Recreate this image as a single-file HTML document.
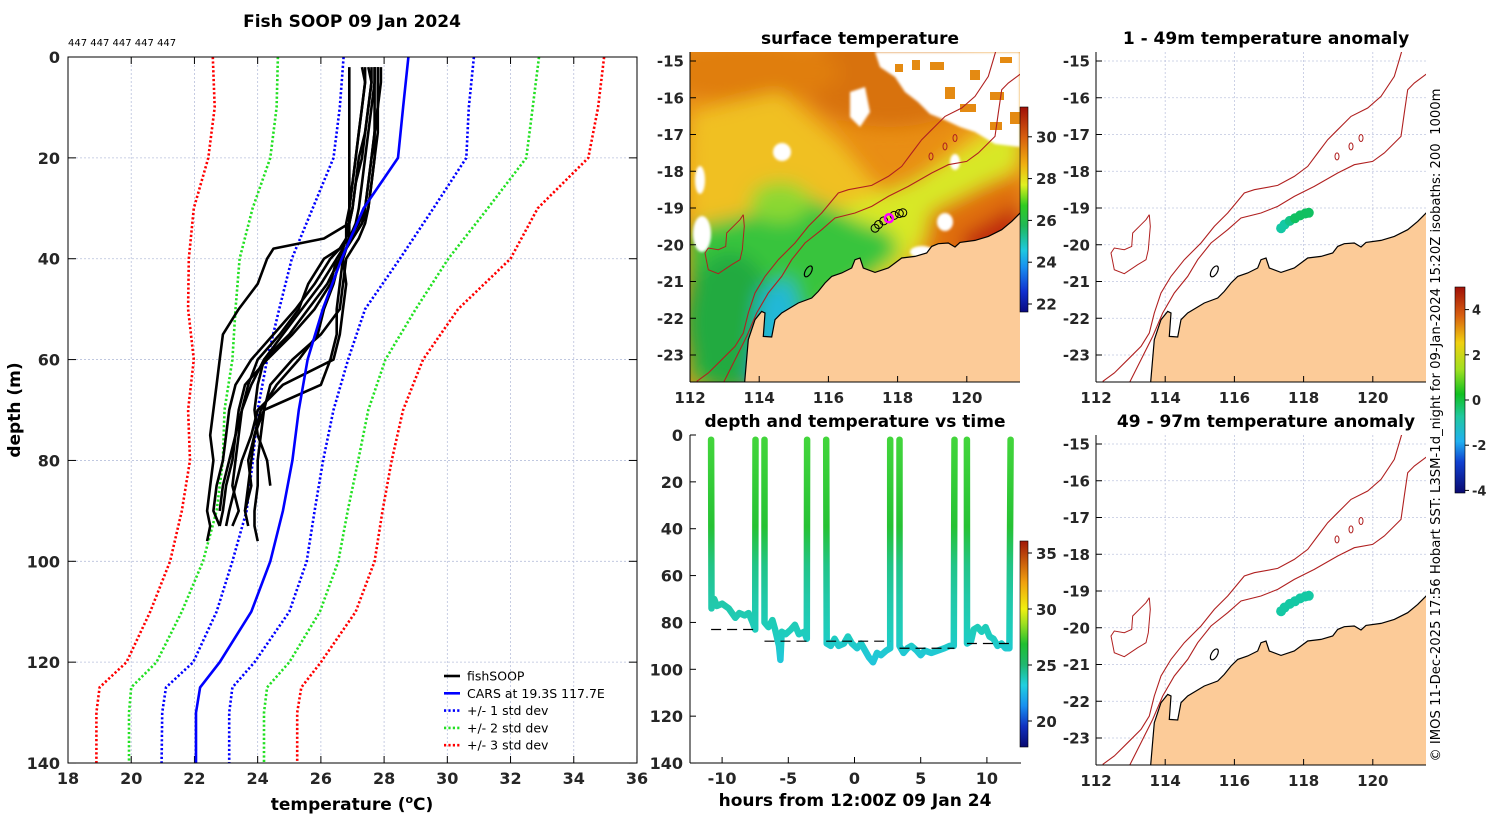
<!DOCTYPE html>
<html><head><meta charset="utf-8"><title>Fish SOOP 09 Jan 2024</title>
<style>
html,body{margin:0;padding:0;background:#fff;}
svg{display:block;font-family:"DejaVu Sans","Liberation Sans",sans-serif;}
.tk{font-weight:bold;font-size:16px;fill:#262626;}
.mt{font-weight:bold;font-size:15px;fill:#262626;}
.ti{font-weight:bold;font-size:17px;fill:#000;}
.lg{font-size:12.5px;fill:#000;}
</style></head>
<body>
<svg id="fig" width="1500" height="820" viewBox="0 0 1500 820" xmlns="http://www.w3.org/2000/svg">
<defs>
<linearGradient id="castGrad" gradientUnits="userSpaceOnUse" x1="0" y1="435" x2="0" y2="763">
<stop offset="0" stop-color="#44d63c"/><stop offset="0.28" stop-color="#26c234"/><stop offset="0.4" stop-color="#22c488"/><stop offset="0.5" stop-color="#22c8a8"/><stop offset="0.6" stop-color="#1ecdbc"/><stop offset="0.68" stop-color="#20c8d8"/><stop offset="1" stop-color="#2090f0"/>
</linearGradient>
<linearGradient id="sstBar" x1="0" y1="1" x2="0" y2="0">
<stop offset="0" stop-color="#0a0a80"/><stop offset="0.1" stop-color="#1030d0"/><stop offset="0.22" stop-color="#1890f0"/><stop offset="0.3" stop-color="#20c8e0"/><stop offset="0.42" stop-color="#20b858"/><stop offset="0.52" stop-color="#30cc20"/><stop offset="0.62" stop-color="#e0f020"/><stop offset="0.72" stop-color="#f0b010"/><stop offset="0.85" stop-color="#d86010"/><stop offset="1" stop-color="#a01008"/>
</linearGradient>
<linearGradient id="timeBar" x1="0" y1="1" x2="0" y2="0">
<stop offset="0" stop-color="#0a0a70"/><stop offset="0.1" stop-color="#1030c0"/><stop offset="0.2" stop-color="#1890f0"/><stop offset="0.3" stop-color="#20d0e0"/><stop offset="0.4" stop-color="#20b870"/><stop offset="0.5" stop-color="#20c030"/><stop offset="0.6" stop-color="#a0e020"/><stop offset="0.67" stop-color="#f0f010"/><stop offset="0.8" stop-color="#f0a010"/><stop offset="1" stop-color="#a01808"/>
</linearGradient>
<linearGradient id="anomBar" x1="0" y1="1" x2="0" y2="0">
<stop offset="0" stop-color="#0a0a70"/><stop offset="0.15" stop-color="#1040d0"/><stop offset="0.25" stop-color="#20b0f0"/><stop offset="0.37" stop-color="#20c8a0"/><stop offset="0.48" stop-color="#10c020"/><stop offset="0.6" stop-color="#a0e020"/><stop offset="0.73" stop-color="#f0d010"/><stop offset="0.86" stop-color="#d86010"/><stop offset="1" stop-color="#a01008"/>
</linearGradient>
<filter id="blur" x="-20%" y="-20%" width="140%" height="140%"><feGaussianBlur stdDeviation="9"/></filter>
<filter id="blurS"><feGaussianBlur stdDeviation="1.2"/></filter>
<clipPath id="mapClip"><rect x="0" y="0" width="330" height="330"/></clipPath>
</defs>
</svg>
<script>
// ---------- LEFT PANEL DATA ----------
const caDepths = [0,10,20,30,40,50,60,70,80,90,100,110,120,125,130,140];
const carsMean = [28.77,28.6,28.44,27.35,26.66,26.06,25.58,25.3,25.1,24.8,24.4,23.8,22.8,22.18,22.05,22.05];
const sd1Low  = [26.72,26.6,26.4,25.74,25.08,24.68,24.3,24.0,23.85,23.65,23.2,22.7,21.96,21.1,20.98,20.96];
const sd1High = [30.84,30.68,30.6,29.56,28.5,27.4,26.86,26.4,26.07,25.8,25.55,25.0,23.9,23.2,23.1,23.1];
const sd2Low  = [24.64,24.6,24.4,23.84,23.43,23.3,23.2,22.95,22.9,22.7,22.27,21.6,20.8,20.0,19.93,19.93];
const sd2High = [32.9,32.7,32.5,31.28,30.03,29.0,28.04,27.5,27.18,26.85,26.55,25.97,25.0,24.3,24.2,24.2];
const sd3Low  = [22.58,22.64,22.44,21.98,21.82,21.8,21.98,21.8,21.86,21.6,21.23,20.6,19.85,19.0,18.9,18.9];
const sd3High = [34.96,34.77,34.46,32.86,32.0,30.34,29.23,28.6,28.24,27.95,27.7,27.1,26.0,25.38,25.25,25.25];
const profDepths = [2,5,10,15,20,25,30,33,36,38,40,45,50,55,60,65,70,75,80,85,90,93,96];
const prof1 = [26.9,26.9,26.9,26.9,26.9,26.9,26.9,26.9,26.1,24.5,24.3,24.0,23.4,22.9,22.8,22.7,22.6,22.5,22.6,22.5,22.4,22.5,22.4];
const prof2 = [27.3,27.4,27.3,27.2,27.1,27.0,26.9,26.9,26.8,26.6,26.3,25.8,25.2,24.5,23.8,23.3,23.1,23.0,22.9,22.7,22.6,22.8,null];
const prof3 = [27.5,27.6,27.5,27.4,27.3,27.1,27.0,26.9,26.9,26.8,26.6,26.2,25.6,25.0,24.2,23.8,23.5,23.3,23.1,22.9,22.8,null,null];
const prof4 = [27.8,27.8,27.8,27.7,27.6,27.5,27.4,27.3,27.0,26.8,26.7,26.8,26.7,26.6,26.4,24.8,24.0,23.8,23.5,23.3,23.1,23.0,null];
const prof5 = [27.7,27.7,27.7,27.7,27.7,27.6,27.5,27.3,27.0,26.8,26.6,26.4,26.1,25.9,25.3,24.6,24.1,23.9,23.7,23.8,23.6,23.7,null];
const prof6 = [27.9,27.9,27.8,27.8,27.7,27.6,27.5,27.4,27.2,27.0,26.8,26.7,26.6,26.0,25.1,24.4,24.2,24.1,24.0,24.0,23.9,23.9,24.0];
const prof7 = [27.6,27.6,27.5,27.4,27.2,27.1,27.0,26.9,26.8,26.7,26.5,26.0,25.4,24.8,24.2,24.0,23.9,24.0,24.3,24.4,null,null,null];
const prof8 = [27.4,27.4,27.3,27.2,27.1,27.0,26.9,26.8,26.8,26.7,26.5,26.3,25.8,25.1,24.3,23.6,23.4,23.3,23.2,23.0,22.9,22.8,null];
const prof9 = [27.7,27.7,27.6,27.5,27.4,27.3,27.2,27.1,26.9,26.8,26.7,26.6,26.5,26.5,26.3,26.0,24.2,23.9,23.8,23.7,23.6,null,null];
const prof10= [27.8,27.8,27.8,27.7,27.6,27.5,27.4,27.2,26.9,26.6,26.1,25.6,25.3,24.7,24.0,23.7,23.5,23.4,23.3,23.2,23.4,23.2,null];
const tempTicks = [18,20,22,24,26,28,30,32,34,36];
const depthTicks = [0,20,40,60,80,100,120,140];
// ---------- TIME PANEL DATA ----------
const castStart = [-10.83,-6.8,-2.14,3.4,8.49];
const castEnd = [-7.48,-3.58,2.7,7.55,11.79];
const bottomHours = [
 [-10.8,-10.6,-10.4,-10,-9.5,-9,-8.7,-8.3,-8,-7.7,-7.5],
 [-6.8,-6.5,-6.2,-6,-5.7,-5.6,-5.5,-5.2,-4.8,-4.5,-4.2,-3.8,-3.6],
 [-2.1,-1.8,-1.5,-1.2,-0.8,-0.5,-0.2,0.2,0.5,0.8,1.1,1.4,1.7,2.0,2.4,2.7],
 [3.4,3.7,4.0,4.3,4.7,5.0,5.3,5.8,6.3,6.8,7.2,7.5],
 [8.5,8.8,9.0,9.3,9.6,9.9,10.2,10.5,10.8,11.1,11.4,11.7]];
const bottomDepths = [
 [74,70,73,72,74,78,76,77,76,80,83],
 [80,82,79,83,90,96,84,85,83,81,85,84,87],
 [89,90,87,90,89,86,89,91,89,92,95,97,93,94,92,91],
 [90,93,91,90,92,94,92,93,92,91,90,90],
 [89,88,83,82,84,82,86,87,90,89,91,91]];
const dashDepth = [83,88,88,91,89];
const hourTicks = [-10,-5,0,5,10];
const timeDepthTicks = [0,20,40,60,80,100,120,140];
// ---------- MAP DATA ----------
const lonTicks = [112,114,116,118,120];
const latTicks = [-15,-16,-17,-18,-19,-20,-21,-22,-23];
const trackLon = [117.35,117.45,117.6,117.75,117.9,118.05,118.15];
const trackLat = [-19.55,-19.45,-19.35,-19.28,-19.2,-19.15,-19.13];
const anomShallow = [-1.0,-0.9,-0.6,-0.4,-0.2,-0.1,-0.2];
const anomDeep = [-1.1,-1.1,-1.0,-1.0,-1.0,-1.1,-1.0];
const sstTicks = [30,28,26,24,22];
const timeBarTicks = [35,30,25,20];
const anomTicks = [4,2,0,-2,-4];

const NS='http://www.w3.org/2000/svg';
const svg=document.getElementById('fig');
function E(tag,attrs,parent){const e=document.createElementNS(NS,tag);for(const k in attrs)e.setAttribute(k,attrs[k]);(parent||svg).appendChild(e);return e;}
function T(txt,x,y,cls,anchor,parent,extra){const e=E('text',Object.assign({x:x,y:y,'class':cls,'text-anchor':anchor||'middle'},extra||{}),parent);e.textContent=txt;return e;}

// ===== LEFT PANEL =====
const xT=t=>68+(t-18)*31.61, yD=d=>57+d*5.043;
const lp=E('g',{});


tempTicks.forEach(t=>{const l=E('line',{x1:xT(t),x2:xT(t),y1:57,y2:763,stroke:'#b8c0dc','stroke-width':0.8,'stroke-dasharray':'2,2'},lp);
 
 
 E('line',{x1:xT(t),x2:xT(t),y1:57,y2:64,stroke:'#000'},lp);E('line',{x1:xT(t),x2:xT(t),y1:756,y2:763,stroke:'#000'},lp);
 const tl=T(String(t),xT(t),784,'tk','middle',lp);
 
 });
depthTicks.forEach(d=>{const l=E('line',{x1:68,x2:637,y1:yD(d),y2:yD(d),stroke:'#b8c0dc','stroke-width':0.8,'stroke-dasharray':'2,2'},lp);
 
 
 E('line',{x1:68,x2:76,y1:yD(d),y2:yD(d),stroke:'#000'},lp);E('line',{x1:629,x2:637,y1:yD(d),y2:yD(d),stroke:'#000'},lp);
 const tl=T(String(d),60,yD(d)+6,'tk','end',lp);
 
 });
function polyPts(xs,ys,fx,fy){let p=[];for(let i=0;i<xs.length;i++){if(xs[i]==null||ys[i]==null)continue;p.push(fx(xs[i]).toFixed(1)+','+fy(ys[i]).toFixed(1));}return p.join(' ');}
[[sd3Low,'#ff0000','sd3-low'],[sd3High,'#ff0000','sd3-high'],[sd2Low,'#22e022','sd2-low'],[sd2High,'#22e022','sd2-high'],[sd1Low,'#0000ff','sd1-low'],[sd1High,'#0000ff','sd1-high']].forEach(a=>{
 const pl=E('polyline',{points:polyPts(a[0],caDepths,xT,yD),fill:'none',stroke:a[1],'stroke-width':2.6,'stroke-dasharray':'2.2,2.2'},lp);
 
 });
[prof1,prof2,prof3,prof4,prof5,prof6,prof7,prof8,prof9,prof10].forEach((p,i)=>{
 const pl=E('polyline',{points:polyPts(p,profDepths,xT,yD),fill:'none',stroke:'#000','stroke-width':2.6,'stroke-linejoin':'round'},lp);
 
 });
const cars=E('polyline',{points:polyPts(carsMean,caDepths,xT,yD),fill:'none',stroke:'#0000ff','stroke-width':2.6},lp);


const lbox=E('rect',{x:68,y:57,width:569,height:706,fill:'none',stroke:'#000','stroke-width':1},lp);


const ttl=T('Fish SOOP 09 Jan 2024',352,27,'ti','middle',lp);


const cnt=T('447 447 447 447 447',68,46,'lg','start',lp,{style:'font-size:10px'});


const xl=E('text',{x:352,y:810,'class':'ti','text-anchor':'middle'},lp);
xl.innerHTML='temperature (<tspan dy="-7" font-size="11">o</tspan><tspan dy="7">C)</tspan>';


const yl=T('depth (m)',20,410,'ti','middle',lp,{transform:'rotate(-90 20 410)'});


const lgItems=[['fishSOOP','#000',''],['CARS at 19.3S 117.7E','#0000ff',''],['+/- 1 std dev','#0000ff','2.2,2.2'],['+/- 2 std dev','#22e022','2.2,2.2'],['+/- 3 std dev','#ff0000','2.2,2.2']];
const lg=E('g',{},lp);


lgItems.forEach((it,i)=>{const y=676+i*17.3;const g=E('g',{},lg);
 
 
 E('line',{x1:444,x2:460,y1:y,y2:y,stroke:it[1],'stroke-width':2.6,'stroke-dasharray':it[2]||'none'},g);
 T(it[0],467,y+4.5,'lg','start',g);});

// ===== TIME PANEL =====
const xH=h=>854.5+h*13.24, yZ=d=>435+d*2.343;
const tp=E('g',{});


castStart.forEach((s,i)=>{
 const hs=[s].concat(bottomHours[i]).concat([castEnd[i]]);
 const ds=[2].concat(bottomDepths[i]).concat([2]);
 const pl=E('polyline',{points:polyPts(hs,ds,xH,yZ),fill:'none',stroke:'url(#castGrad)','stroke-width':6.5,'stroke-linejoin':'round','stroke-linecap':'round'},tp);
 
 
 const dl=E('line',{x1:xH(s),x2:xH(castEnd[i]),y1:yZ(dashDepth[i]),y2:yZ(dashDepth[i]),stroke:'#000','stroke-width':1.2,'stroke-dasharray':'10,6'},tp);
 
 });
E('line',{x1:690,x2:690,y1:435,y2:763,stroke:'#000'},tp);
E('line',{x1:690,x2:1021,y1:763,y2:763,stroke:'#000'},tp);
hourTicks.forEach(h=>{E('line',{x1:xH(h),x2:xH(h),y1:757,y2:763,stroke:'#000'},tp);
 const tl=T(String(h),xH(h),784,'tk','middle',tp);
 
 });
timeDepthTicks.forEach(d=>{E('line',{x1:690,x2:696,y1:yZ(d),y2:yZ(d),stroke:'#000'},tp);
 const tl=T(String(d),683,yZ(d)+6,'tk','end',tp);
 
 });
const tt=T('depth and temperature vs time',855,427,'ti','middle',tp);


const tx=T('hours from 12:00Z 09 Jan 24',855,806,'ti','middle',tp);


const tb=E('rect',{x:1020,y:541,width:8,height:206,fill:'url(#timeBar)',stroke:'#000','stroke-width':0.6},tp);


timeBarTicks.forEach(v=>{const y=721-(v-20)*11.2;E('line',{x1:1028,x2:1032,y1:y,y2:y,stroke:'#000'},tp);
 const tl=T(String(v),1036,y+6,'mt','start',tp);
 
 });

// ===== MAPS =====
const lx=lon=>(lon-112)*34.6, ly=lat=>9+(-15-lat)*36.75;
const coastZ=[[268,1100],[280,960],[300,900],[320,875],[330,880],[325,950],[350,952],[360,900],[380,880],[430,850],[470,835],[490,815],[510,790],[530,770],[560,760],[590,745],[600,720],[615,715],[625,745],[660,758],[700,745],[740,715],[780,710],[815,700],[830,680],[850,672],[880,670],[900,682],[915,668],[960,662],[1000,650],[1040,630],[1070,605],[1100,575],[1100,1100]];
const isoAZ=[[125,1085],[160,1060],[200,1020],[240,980],[265,940],[280,880],[300,820],[330,770],[370,720],[420,670],[460,620],[500,580],[550,520],[580,510],[650,497],[700,470],[740,440],[770,400],[800,360],[830,330],[870,290],[920,265],[960,230],[1000,170],[1015,120],[1022,95]];
const isoBZ=[[205,1090],[240,1020],[275,950],[305,880],[340,820],[380,770],[410,720],[450,670],[500,630],[540,595],[600,580],[650,560],[700,530],[760,500],[830,460],[880,435],[935,425],[970,400],[1020,350],[1030,280],[1040,210],[1060,190],[1100,160]];
const islZ=[[265,585],[255,600],[240,615],[215,640],[212,680],[190,690],[160,685],[150,700],[160,750],[190,762],[230,735],[255,720],[262,690],[268,620],[265,585]];
const cv=p=>(p[0]/3-35).toFixed(1)+','+(p[1]/3-32.3).toFixed(1);
const P=a=>a.map(cv).join(' ');

function drawMap(ox,oy,name,title,sst,anom){
 const g=E('g',{transform:'translate('+ox+','+oy+')'});
 
 
 const inner=E('g',{'clip-path':'url(#mapClip)'},g);
 lonTicks.forEach(l=>E('line',{x1:lx(l),x2:lx(l),y1:0,y2:330,stroke:'#c0c6e0','stroke-width':0.8,'stroke-dasharray':'2,2'},inner));
 latTicks.forEach(l=>E('line',{x1:0,x2:330,y1:ly(l),y2:ly(l),stroke:'#c0c6e0','stroke-width':0.8,'stroke-dasharray':'2,2'},inner));
 if(sst){
  const r=E('g',{},inner);
  
  
  E('rect',{x:-20,y:-20,width:370,height:370,fill:'#e98e14'},r);
  const bl=E('g',{filter:'url(#blur)'},r);
  E('ellipse',{cx:200,cy:25,rx:90,ry:50,fill:'#d8720c'},bl);
  E('ellipse',{cx:60,cy:20,rx:90,ry:30,fill:'#e07e10'},bl);
  E('ellipse',{cx:30,cy:120,rx:45,ry:55,fill:'#ec9a18'},bl);
  E('polygon',{points:'0,60 90,40 150,90 200,150 330,40 330,120 250,200 180,250 120,330 0,330',fill:'#f0c020'},bl);
  E('polygon',{points:'110,170 220,130 330,70 330,110 240,180 200,220 150,230',fill:'#d8e828'},bl);
  E('polygon',{points:'0,175 70,160 120,145 170,170 200,180 210,200 180,225 140,250 120,300 100,330 0,330',fill:'#38c43c'},bl);
  E('ellipse',{cx:40,cy:270,rx:45,ry:70,fill:'#20aa40'},bl);
  E('ellipse',{cx:90,cy:150,rx:30,ry:20,fill:'#8cd830'},bl);
  E('polygon',{points:'70,240 100,225 110,260 100,330 60,330',fill:'#20b8d8'},bl);
  E('ellipse',{cx:80,cy:320,rx:20,ry:25,fill:'#1890e0'},bl);
  E('polygon',{points:'240,160 300,130 330,120 330,190 280,215 230,220',fill:'#e07010'},bl);
  E('polygon',{points:'270,185 330,150 330,200 280,210',fill:'#c02a10'},bl);
  const wb=E('g',{filter:'url(#blurS)',fill:'#fff'},r);
  E('polygon',{points:'185,0 330,0 330,95 305,92 285,80 270,75 255,68 240,62 228,50 215,40 205,25 190,15'},wb);
  E('polygon',{points:'160,40 175,35 180,60 170,75 160,65'},wb);
  E('ellipse',{cx:92,cy:100,rx:9,ry:9},wb);
  E('ellipse',{cx:10,cy:128,rx:5,ry:14},wb);
  E('ellipse',{cx:12,cy:182,rx:9,ry:18},wb);
  E('ellipse',{cx:255,cy:170,rx:8,ry:9},wb);
  E('ellipse',{cx:232,cy:200,rx:12,ry:6},wb);
  E('ellipse',{cx:265,cy:110,rx:5,ry:8},wb);
  const op=E('g',{fill:'#e48a12'},r);
  [[240,10,14,8],[280,18,10,10],[300,40,14,8],[255,35,10,12],[310,5,12,6],[222,8,8,10],[270,52,16,8],[300,70,12,8],[320,60,10,12],[205,12,8,8]].forEach(q=>E('rect',{x:q[0],y:q[1],width:q[2],height:q[3]},op));
 }
 const land=E('polygon',{points:P(coastZ),fill:'#fccb98',stroke:'#000','stroke-width':1.2},inner);
 
 
 const isl=E('polyline',{points:P(islZ),fill:'none',stroke:'#b02020','stroke-width':1},inner);
 
 
 [isoAZ,isoBZ].forEach((a,i)=>{const pl=E('polyline',{points:P(a),fill:'none',stroke:'#b02020','stroke-width':1.1},inner);
  
  });
 [[828,410],[870,380],[900,355]].forEach(p=>{const c=cv(p).split(',');E('ellipse',{cx:c[0],cy:c[1],rx:2,ry:3.5,fill:'none',stroke:'#b02020','stroke-width':1},inner);});
 E('ellipse',{cx:460/3-35,cy:755/3-32.3,rx:3,ry:6,fill:'none',stroke:'#000','stroke-width':1.2,transform:'rotate(30 '+(460/3-35)+' '+(755/3-32.3)+')'},inner);
 if(sst){
  trackLon.forEach((lo,i)=>{const c=E('circle',{cx:lx(lo),cy:ly(trackLat[i]),r:4,fill:'none',stroke:'#000','stroke-width':1},inner);
   
   });
  const m=E('circle',{cx:lx(117.75),cy:ly(-19.28),r:4,fill:'none',stroke:'#ff00ff','stroke-width':2.5},inner);
  
  
 }
 if(anom){
  trackLon.forEach((lo,i)=>{const v=anom[i];const col=v<-0.8?'#14c8a4':(v<-0.4?'#12c488':'#10c060');
   const c=E('circle',{cx:lx(lo),cy:ly(trackLat[i]),r:5,fill:col},inner);
   
   });
 }
 E('line',{x1:0,x2:0,y1:0,y2:330,stroke:'#000'},g);
 E('line',{x1:0,x2:330,y1:330,y2:330,stroke:'#000'},g);
 lonTicks.forEach(l=>{E('line',{x1:lx(l),x2:lx(l),y1:324,y2:330,stroke:'#000'},g);
  const tl=T(String(l),lx(l),351,'mt','middle',g);
  
  });
 latTicks.forEach(l=>{E('line',{x1:0,x2:6,y1:ly(l),y2:ly(l),stroke:'#000'},g);
  const tl=T(String(l),-6,ly(l)+5.5,'mt','end',g);
  
  });
 const ti=T(title,170,-8,'ti','middle',g);
 
 
}
drawMap(690,52,'sst-map','surface temperature',true,null);
drawMap(1096,52,'anomaly-map-shallow','1 - 49m temperature anomaly',false,anomShallow);
drawMap(1096,435,'anomaly-map-deep','49 - 97m temperature anomaly',false,anomDeep);

const sb=E('rect',{x:1020,y:107,width:8,height:205,fill:'url(#sstBar)',stroke:'#000','stroke-width':0.6});


sstTicks.forEach(v=>{const y=304-(v-22)*20.9;E('line',{x1:1028,x2:1032,y1:y,y2:y,stroke:'#000'});
 const tl=T(String(v),1036,y+5.5,'mt','start');
 
 });
const ab=E('rect',{x:1455,y:287,width:10,height:206,fill:'url(#anomBar)',stroke:'#000','stroke-width':0.6});


anomTicks.forEach(v=>{const y=400-v*22.6;E('line',{x1:1465,x2:1469,y1:y,y2:y,stroke:'#000'});
 const tl=T(String(v),1472,y+5,'mt','start',null,{style:'font-size:13px'});
 
 });
const vt=T('© IMOS 11-Dec-2025 17:56 Hobart SST: L3SM-1d_night for 09-Jan-2024 15:20Z isobaths: 200  1000m',1440,425,'lg','middle',null,{transform:'rotate(-90 1440 425)',style:'font-size:13.2px;white-space:pre'});


</script>
</body></html>
